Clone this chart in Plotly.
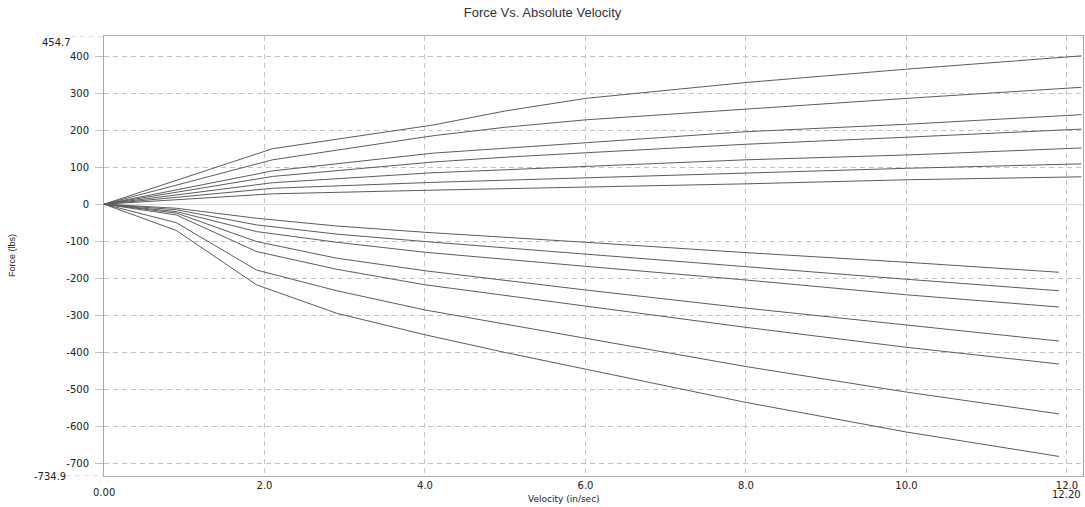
import plotly.graph_objects as go

# ---- data ----
vel_pos = [0.0, 2.1, 4.1, 5.0, 6.0, 8.0, 10.0, 12.18]
pos_1 = [0, 150, 214, 252, 286, 329, 365, 401]
pos_2 = [0, 120, 185, 208, 228, 258, 286, 316]
pos_3 = [0, 90, 138, 152, 166, 196, 216, 242]
pos_4 = [0, 75, 114, 127, 139, 162, 181, 203]
pos_5 = [0, 58, 85, 93, 102, 120, 133, 152]
pos_6 = [0, 43, 59, 65, 72, 84, 97, 109]
pos_7 = [0, 28, 38, 42, 47, 55, 66, 74]

vel_neg = [0.0, 0.9, 1.9, 2.9, 4.0, 5.0, 6.0, 8.0, 10.0, 11.9]
neg_1 = [0, -11, -38, -59, -76, -89, -103, -131, -157, -184]
neg_2 = [0, -15, -56, -81, -101, -118, -136, -169, -203, -234]
neg_3 = [0, -20, -74, -103, -130, -148, -168, -205, -245, -278]
neg_4 = [0, -24, -101, -146, -180, -206, -232, -281, -326, -370]
neg_5 = [0, -29, -128, -176, -218, -247, -277, -333, -387, -432]
neg_6 = [0, -50, -178, -234, -286, -324, -362, -439, -508, -567]
neg_7 = [0, -71, -218, -295, -353, -401, -446, -536, -616, -682]

x_ticks = [2, 4, 6, 8, 10, 12]
x_ticktext = ["2.0", "4.0", "6.0", "8.0", "10.0", "12.0"]
y_ticks = [400, 300, 200, 100, 0, -100, -200, -300, -400, -500, -600, -700]
y_ticktext = ["400", "300", "200", "100", "0", "-100", "-200", "-300",
              "-400", "-500", "-600", "-700"]
x_min, x_max = 0.0, 12.2
y_min, y_max = -734.9, 454.7

title = "Force Vs. Absolute Velocity"
x_title = "Velocity (in/sec)"
y_title = "Force (lbs)"

LINE = "#5c5c5c"
GRID = "#c4c4c4"

fig = go.Figure()
for ys in [pos_1, pos_2, pos_3, pos_4, pos_5, pos_6, pos_7]:
    fig.add_trace(go.Scatter(x=vel_pos, y=ys, mode="lines",
                             line=dict(color=LINE, width=1), showlegend=False,
                             hoverinfo="skip"))
for ys in [neg_1, neg_2, neg_3, neg_4, neg_5, neg_6, neg_7]:
    fig.add_trace(go.Scatter(x=vel_neg, y=ys, mode="lines",
                             line=dict(color=LINE, width=1), showlegend=False,
                             hoverinfo="skip"))

tick_font = dict(family="DejaVu Sans", size=10, color="#222222")

fig.update_layout(
    width=1085, height=507,
    margin=dict(l=104, r=2, t=36, b=31),
    paper_bgcolor="white", plot_bgcolor="white",
    title=dict(text=title, x=0.5, xanchor="center", y=0.975, yanchor="middle",
               font=dict(family="Liberation Sans", size=13, color="#333333")),
    xaxis=dict(range=[x_min, x_max], tickvals=x_ticks, ticktext=x_ticktext,
               showgrid=True, gridcolor=GRID, griddash="5px,4px", gridwidth=1,
               zeroline=False, showline=True, linecolor="#b4b4b4", linewidth=1,
               mirror=True, ticks="", tickfont=tick_font),
    yaxis=dict(range=[y_min, y_max], tickvals=y_ticks, ticktext=y_ticktext,
               showgrid=True, gridcolor=GRID, griddash="5px,4px", gridwidth=1,
               zeroline=True, zerolinecolor="#d8d8d8", zerolinewidth=1,
               showline=True, linecolor="#a8a8a8", linewidth=1, mirror=True,
               ticks="outside", ticklen=8, tickcolor=GRID, tickfont=tick_font,
               ticklabelstandoff=4),
)

# extreme value labels with dashed leaders
fig.add_annotation(x=0, xref="paper", xanchor="right", xshift=-31,
                   y=y_max, yref="y", yanchor="top", yshift=1,
                   text="454.7", showarrow=False, font=tick_font)
fig.add_annotation(x=0, xref="paper", xanchor="right", xshift=-36,
                   y=y_min, yref="y", yanchor="middle",
                   text="-734.9", showarrow=False, font=tick_font)
fig.add_shape(type="line", xref="paper", yref="y", x0=-0.034, x1=0,
              y0=y_max, y1=y_max, line=dict(color=GRID, width=1, dash="5px,4px"))
fig.add_shape(type="line", xref="paper", yref="y", x0=-0.039, x1=0,
              y0=y_min, y1=y_min, line=dict(color=GRID, width=1, dash="5px,4px"))
fig.add_annotation(x=x_min, xref="x", xanchor="center", y=0, yref="paper",
                   yanchor="top", yshift=-9, text="0.00", showarrow=False,
                   font=tick_font)
fig.add_annotation(x=12.0, xref="x", xanchor="center", y=0, yref="paper",
                   yanchor="top", yshift=-11, text="12.20", showarrow=False,
                   font=tick_font)

# axis titles
fig.add_annotation(x=0.47, xref="paper", xanchor="center", y=0, yref="paper",
                   yanchor="top", yshift=-16, text=x_title, showarrow=False,
                   font=dict(family="DejaVu Sans", size=9, color="#222222"))
fig.add_annotation(x=0, xref="paper", xanchor="center", xshift=-92,
                   y=0.5, yref="paper", yanchor="middle", textangle=-90,
                   text=y_title, showarrow=False,
                   font=dict(family="Liberation Sans", size=9, color="#222222"))

fig.write_html("out.html",
               config={"displayModeBar": False},
               post_script="document.body.style.margin='0';"
                           "document.body.style.overflow='hidden';")
